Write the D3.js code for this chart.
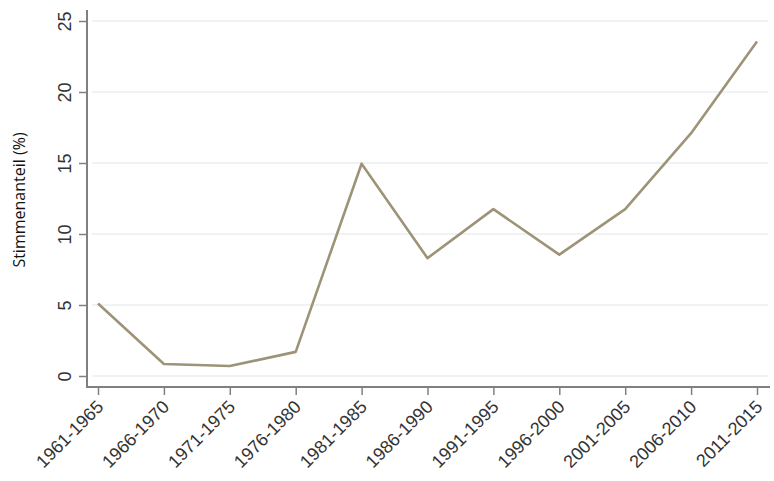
<!DOCTYPE html>
<html><head><meta charset="utf-8">
<script src="https://cdn.jsdelivr.net/npm/d3@7"></script>
<style>body{margin:0;background:#fff;} svg{display:block;}</style>
</head><body><svg id="c" width="774" height="481"></svg>
<script>
const categories = ["1961-1965","1966-1970","1971-1975","1976-1980","1981-1985","1986-1990","1991-1995","1996-2000","2001-2005","2006-2010","2011-2015"];
const values = [5.1, 0.85, 0.7, 1.7, 14.95, 8.3, 11.75, 8.55, 11.75, 17.1, 23.55];
const yTicks = [0, 5, 10, 15, 20, 25];
const yLabel = "Stimmenanteil  (%)";

const svg = d3.select("#c");
const x = d3.scalePoint().domain(categories).range([98, 757]);
const y = d3.scaleLinear().domain([0, 25]).range([376, 21]);

// gridlines
svg.append("g").selectAll("line").data(yTicks).join("line")
  .attr("x1", 92).attr("x2", 768)
  .attr("y1", d => y(d)).attr("y2", d => y(d))
  .attr("stroke", "#eaefef").attr("stroke-width", 1.5);

// y axis
const ya = svg.append("g").attr("transform", "translate(87,0)")
  .call(d3.axisLeft(y).tickValues(yTicks).tickSize(8).tickSizeOuter(0));
ya.select(".domain").attr("stroke", "#808080").attr("stroke-width", 2).attr("d", "M0,10V387");
ya.selectAll(".tick line").attr("stroke", "#808080").attr("stroke-width", 1.5);
ya.selectAll(".tick text")
  .attr("transform", "rotate(-90)").attr("x", 0).attr("y", -16)
  .attr("text-anchor", "middle").attr("dy", 0)
  .style("font-family", "'Liberation Sans', Arial, sans-serif").style("font-size", "18px").attr("fill", "#333");

// x axis
const xa = svg.append("g").attr("transform", "translate(0,387)")
  .call(d3.axisBottom(x).tickSize(8).tickSizeOuter(0));
xa.select(".domain").attr("stroke", "#808080").attr("stroke-width", 2).attr("d", "M86,0H770");
xa.selectAll(".tick line").attr("stroke", "#808080").attr("stroke-width", 1.5);
xa.selectAll(".tick text")
  .attr("text-anchor", "end").attr("dy", 0).attr("y", 0)
  .attr("transform", "translate(6,21) rotate(-45)")
  .style("font-family", "'Liberation Sans', Arial, sans-serif").style("font-size", "18px").attr("fill", "#333");

// line
svg.append("path").datum(values)
  .attr("fill", "none").attr("stroke", "#9d9478").attr("stroke-width", 2.6)
  .attr("stroke-linejoin", "round")
  .attr("d", d3.line().x((d, i) => x(categories[i])).y(d => y(d)));

// y label
svg.append("text").attr("transform", "translate(25,200) rotate(-90)")
  .attr("text-anchor", "middle")
  .style("font-family", "'Open Sans', sans-serif").style("font-size", "16px").attr("fill", "#111")
  .text(yLabel);
</script></body></html>
